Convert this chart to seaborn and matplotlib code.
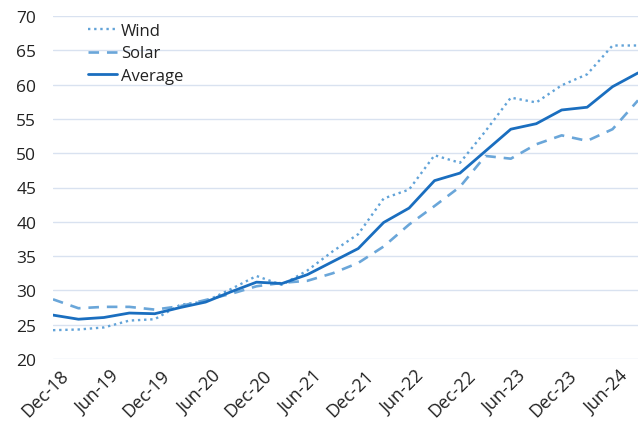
import matplotlib
matplotlib.use("Agg")
import matplotlib.pyplot as plt
import matplotlib.transforms as mtransforms
import seaborn as sns
import pandas as pd

quarters = ["Dec-18", "Mar-19", "Jun-19", "Sep-19", "Dec-19", "Mar-20", "Jun-20", "Sep-20",
            "Dec-20", "Mar-21", "Jun-21", "Sep-21", "Dec-21", "Mar-22", "Jun-22", "Sep-22",
            "Dec-22", "Mar-23", "Jun-23", "Sep-23", "Dec-23", "Mar-24", "Jun-24", "Sep-24"]
wind = [24.2, 24.3, 24.6, 25.6, 25.8, 27.9, 28.4, 30.2, 32.1, 30.8, 32.9, 35.7,
        38.2, 43.4, 44.7, 49.7, 48.6, 53.2, 58.1, 57.4, 59.9, 61.5, 65.7, 65.7]
solar = [28.7, 27.4, 27.6, 27.6, 27.2, 27.7, 28.6, 29.5, 30.6, 31.1, 31.4, 32.5,
         34.0, 36.4, 39.6, 42.3, 45.1, 49.6, 49.2, 51.3, 52.6, 51.8, 53.5, 57.7]
average = [26.4, 25.8, 26.05, 26.7, 26.6, 27.5, 28.3, 29.8, 31.2, 31.0, 32.3, 34.2,
           36.1, 39.9, 42.0, 46.0, 47.1, 50.3, 53.5, 54.3, 56.3, 56.7, 59.7, 61.7]
series_names = ["Wind", "Solar", "Average"]
y_ticks = [20, 25, 30, 35, 40, 45, 50, 55, 60, 65, 70]

rows = []
for name, vals in zip(series_names, [wind, solar, average]):
    for i, v in enumerate(vals):
        rows.append({"idx": i, "value": v, "series": name})
df = pd.DataFrame(rows)

sns.set_theme(style="white")
plt.rcParams["font.family"] = ["Open Sans", "DejaVu Sans"]

fig = plt.figure(figsize=(6.38, 4.27), dpi=100)
ax = fig.add_axes([53 / 638, 1 - 360 / 427, (638 - 53) / 638, (360 - 17) / 427])

palette = {"Wind": "#62a3d8", "Solar": "#6aa6d9", "Average": "#1a6ebf"}
styles = {"Wind": (0, (1, 1.6)), "Solar": (0, (4, 3)), "Average": "-"}
widths = {"Wind": 1.7, "Solar": 1.9, "Average": 2.0}

for name in series_names:
    sub = df[df["series"] == name]
    sns.lineplot(data=sub, x="idx", y="value", ax=ax, color=palette[name],
                 linestyle=styles[name], linewidth=widths[name], label=name)

ax.set_xlim(0, len(quarters) - 1)
ax.set_ylim(20, 70)
ax.set_yticks(y_ticks)
ax.set_xticks(range(0, len(quarters), 2))
ax.set_xticklabels(quarters[::2], rotation=45, ha="right", rotation_mode="anchor")
ax.tick_params(axis="y", labelsize=12.5, colors="#222222", length=0, pad=12)
ax.tick_params(axis="x", labelsize=13, colors="#222222", length=0, pad=5)
offset = mtransforms.ScaledTranslation(6 / 100, 0, fig.dpi_scale_trans)
for lab in ax.get_xticklabels():
    lab.set_transform(lab.get_transform() + offset)
ax.set_xlabel("")
ax.set_ylabel("")
ax.yaxis.grid(True, color="#d9e2f0", linewidth=1.0)
ax.xaxis.grid(False)
for s in ax.spines.values():
    s.set_visible(False)
ax.set_axisbelow(True)

leg = ax.legend(loc="upper left", frameon=False, fontsize=12, handlelength=1.75,
                handletextpad=0.25, labelspacing=0.4, borderaxespad=0,
                bbox_to_anchor=(28 / 585, 1.0))
for t in leg.get_texts():
    t.set_color("#222222")

fig.savefig("out.png", dpi=100)
